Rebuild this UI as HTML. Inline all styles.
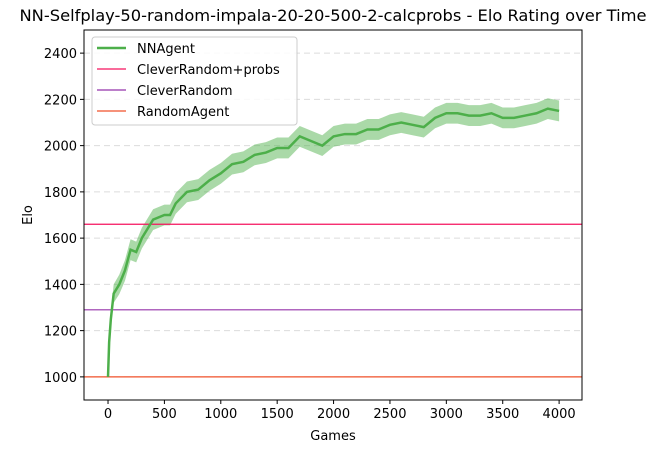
<!DOCTYPE html>
<html><head><meta charset="utf-8"><style>
body{margin:0;background:#fff;font-family:"Liberation Sans","DejaVu Sans",sans-serif;}
svg text{font-family:"DejaVu Sans","Liberation Sans",sans-serif;font-size:13px;fill:#000;}
</style></head><body>
<svg id="chart" width="665" height="453"></svg>
<script>
const games=[0,10,25,50,100,150,200,250,300,350,400,500,550,600,700,800,900,1000,1100,1200,1300,1400,1500,1600,1700,1800,1900,2000,2100,2200,2300,2400,2500,2600,2700,2800,2900,3000,3100,3200,3300,3400,3500,3600,3700,3800,3900,4000];
const nnElo=[1000,1150,1250,1360,1400,1460,1550,1540,1600,1640,1680,1700,1700,1750,1800,1810,1850,1880,1920,1930,1960,1970,1990,1990,2040,2020,2000,2040,2050,2050,2070,2070,2090,2100,2090,2080,2120,2140,2140,2130,2130,2140,2120,2120,2130,2140,2160,2150];
const nnSpread=[0,25,35,40,42,45,45,45,45,45,45,45,45,45,45,45,45,45,45,45,45,45,45,45,45,45,45,45,45,45,45,45,45,45,45,45,45,45,45,45,45,45,45,45,45,45,45,45];
const baselineNames=["CleverRandom+probs","CleverRandom","RandomAgent"];
const baselineElo=[1660,1290,1000];
const baselineColors=["#f5135e","#9533aa","#f0502a"];
const xTicks=[0,500,1000,1500,2000,2500,3000,3500,4000];
const yTicks=[1000,1200,1400,1600,1800,2000,2200,2400];

const L=84,R=582,T=30,B=400;
const xMin=-213,xMax=4203,yMin=900,yMax=2500;
const sx=v=>L+(v-xMin)/(xMax-xMin)*(R-L);
const sy=v=>B-(v-yMin)/(yMax-yMin)*(B-T);
const svg=document.getElementById('chart');
const NS="http://www.w3.org/2000/svg";
function mk(tag,attrs,parent){const e=document.createElementNS(NS,tag);for(const k in attrs)e.setAttribute(k,attrs[k]);(parent||svg).appendChild(e);return e;}

let t=mk('text',{x:(L+R)/2,y:21,'text-anchor':'middle'});t.style.fontSize='16.3px';
t.textContent='NN-Selfplay-50-random-impala-20-20-500-2-calcprobs - Elo Rating over Time';



yTicks.forEach(v=>{
 const g=mk('line',{x1:L,x2:R,y1:sy(v),y2:sy(v),stroke:'#dcdcdc','stroke-dasharray':'6,4','stroke-width':1});
 
 
});

let up=games.map((g,i)=>sx(g)+','+sy(nnElo[i]+nnSpread[i]));
let lo=games.map((g,i)=>sx(g)+','+sy(nnElo[i]-nnSpread[i])).reverse();
const band=mk('polygon',{points:up.concat(lo).join(' '),fill:'#4daf4a','fill-opacity':0.48});



baselineElo.forEach((v,i)=>{
 const l=mk('line',{x1:L,x2:R,y1:sy(v),y2:sy(v),stroke:baselineColors[i],'stroke-width':1.2});
 
 
});

const nn=mk('polyline',{points:games.map((g,i)=>sx(g)+','+sy(nnElo[i])).join(' '),fill:'none',stroke:'#4daf4a','stroke-width':2.5});



const fr=mk('rect',{x:L,y:T,width:R-L,height:B-T,fill:'none',stroke:'#000','stroke-width':1});



xTicks.forEach(v=>{
 mk('line',{x1:sx(v),x2:sx(v),y1:B,y2:B+4,stroke:'#000'});
 const tx=mk('text',{x:sx(v),y:B+18,'text-anchor':'middle'});tx.textContent=v;
 
 
});
yTicks.forEach(v=>{
 mk('line',{x1:L-4,x2:L,y1:sy(v),y2:sy(v),stroke:'#000'});
 const tx=mk('text',{x:L-7,y:sy(v)+5,'text-anchor':'end'});tx.textContent=v;
 
 
});
let xl=mk('text',{x:(L+R)/2,y:440,'text-anchor':'middle'});xl.textContent='Games';


let yl=mk('text',{x:0,y:0,'text-anchor':'middle',transform:`translate(32,${(T+B)/2}) rotate(-90)`});yl.textContent='Elo';



const lg=mk('g',{});


mk('rect',{x:92,y:37,width:205,height:88,rx:3,fill:'#fff','fill-opacity':0.85,stroke:'#ccc'},lg);
const names=["NNAgent"].concat(baselineNames), cols=["#4daf4a"].concat(baselineColors);
names.forEach((n,i)=>{
 const y=48+i*21;
 mk('line',{x1:97,x2:126,y1:y,y2:y,stroke:cols[i],'stroke-width':i===0?2.5:1.2},lg);
 const e=mk('text',{x:137,y:y+5},lg);e.textContent=n;
 
 
});
</script>
</body></html>
